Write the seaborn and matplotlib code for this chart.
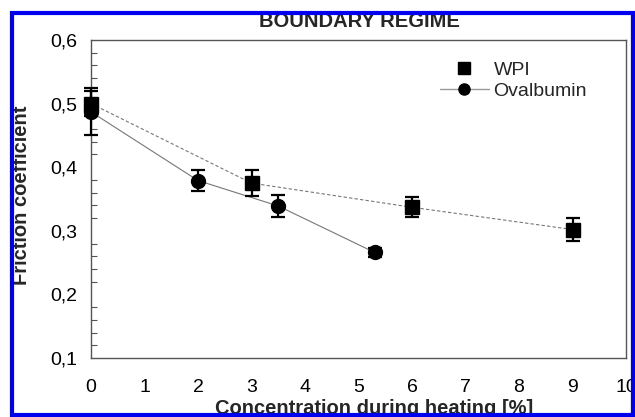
import numpy as np
import pandas as pd
import matplotlib
matplotlib.use("Agg")
import matplotlib.pyplot as plt
from matplotlib.lines import Line2D
from matplotlib.patches import Rectangle
from matplotlib.ticker import FuncFormatter, MultipleLocator
import seaborn as sns

# data
wpi_x = [0, 3, 6, 9]
wpi_y = [0.500, 0.375, 0.337, 0.302]
wpi_err = [0.020, 0.020, 0.016, 0.018]
ova_x = [0, 2, 3.5, 5.3]
ova_y = [0.487, 0.379, 0.339, 0.266]
ova_err = [0.037, 0.017, 0.017, 0.007]
series_names = ["WPI", "Ovalbumin"]
title_text = "BOUNDARY REGIME"
xlabel_text = "Concentration during heating [%]"
ylabel_text = "Friction coefficient"

sns.set_style("white")
plt.rcParams["font.family"] = ["Liberation Sans", "DejaVu Sans"]

df = pd.DataFrame({
    "x": wpi_x + ova_x,
    "y": wpi_y + ova_y,
    "series": [series_names[0]] * len(wpi_x) + [series_names[1]] * len(ova_x),
})

fig = plt.figure(figsize=(6.35, 4.17), dpi=100)
ax = fig.add_axes([91 / 635, 1 - 358 / 417, (626 - 91) / 635, (358 - 40) / 417])

sns.lineplot(data=df, x="x", y="y", hue="series", style="series",
             palette={series_names[0]: "#777777", series_names[1]: "#777777"},
             dashes={series_names[0]: (3, 2), series_names[1]: ""},
             markers={series_names[0]: "s", series_names[1]: "o"},
             markersize=0, linewidth=0.8, ax=ax, legend=False, sort=False)

for xs, ys, es, m in [(wpi_x, wpi_y, wpi_err, "s"), (ova_x, ova_y, ova_err, "o")]:
    cont = ax.errorbar(xs, ys, yerr=es, fmt=m, color="black", markersize=10,
                       capsize=5, elinewidth=1.6, capthick=1.6, zorder=5)
    for art in [cont.lines[0], *cont.lines[1], *cont.lines[2]]:
        art.set_clip_on(False)

ax.set_xlim(0, 10)
ax.set_ylim(0.1, 0.6)
ax.set_xticks(range(0, 11))
ax.set_yticks([0.1, 0.2, 0.3, 0.4, 0.5, 0.6])
ax.yaxis.set_minor_locator(MultipleLocator(0.02))
ax.yaxis.set_major_formatter(FuncFormatter(lambda v, p: f"{v:.1f}".replace(".", ",")))
ax.xaxis.set_major_formatter(FuncFormatter(lambda v, p: f"{int(round(v))}"))
ax.tick_params(axis="both", which="both", direction="in", color="#555555", length=5, width=0.8,
               labelsize=14, labelcolor="black")
ax.tick_params(axis="x", pad=15)
ax.tick_params(axis="y", pad=10)
ax.tick_params(axis="y", which="minor", left=True, length=4)
for s in ax.spines.values():
    s.set_color("#555555")
    s.set_linewidth(1.0)
ax.set_xlabel("")
ax.set_ylabel("")

handles = [
    Line2D([], [], color="black", marker="s", linestyle="none", markersize=8),
    Line2D([], [], color="#999999", marker="o", markerfacecolor="black", markeredgecolor="black",
           linestyle="-", linewidth=1.0, markersize=8),
]
fig.legend(handles, series_names, loc="upper left", bbox_to_anchor=(440 / 635, 1 - 61 / 417),
           frameon=False, fontsize=14, handlelength=2.5, handletextpad=0.25,
           labelspacing=0.2, borderpad=0, borderaxespad=0)

fig.text(359 / 635, 1 - 12 / 417, title_text, ha="center", va="top",
         fontsize=14.5, fontweight="bold")
fig.text(374 / 635, 1 - 414 / 417, xlabel_text, ha="center", va="baseline",
         fontsize=14.5, fontweight="bold")
fig.text(12 / 635, 1 - 195 / 417, ylabel_text, ha="left", va="center", rotation=90,
         fontsize=14.5, fontweight="bold")

# masks outside the blue frame and the frame itself
fig.patches.append(Rectangle((0, 1 - 13 / 417), 1, 13 / 417, transform=fig.transFigure,
                             facecolor="white", edgecolor="none", zorder=9))
fig.patches.append(Rectangle((0, 0), 1, 3 / 417, transform=fig.transFigure,
                             facecolor="white", edgecolor="none", zorder=9))
fig.patches.append(Rectangle((0, 0), 12 / 635, 1, transform=fig.transFigure,
                             facecolor="white", edgecolor="none", zorder=9))
fig.patches.append(Rectangle((12 / 635, 1 - 415 / 417), (633 - 12) / 635, (415 - 13) / 417,
                             transform=fig.transFigure, facecolor="none",
                             edgecolor="#0000ee", linewidth=3.0, zorder=10))

fig.savefig("out.png", dpi=100)
